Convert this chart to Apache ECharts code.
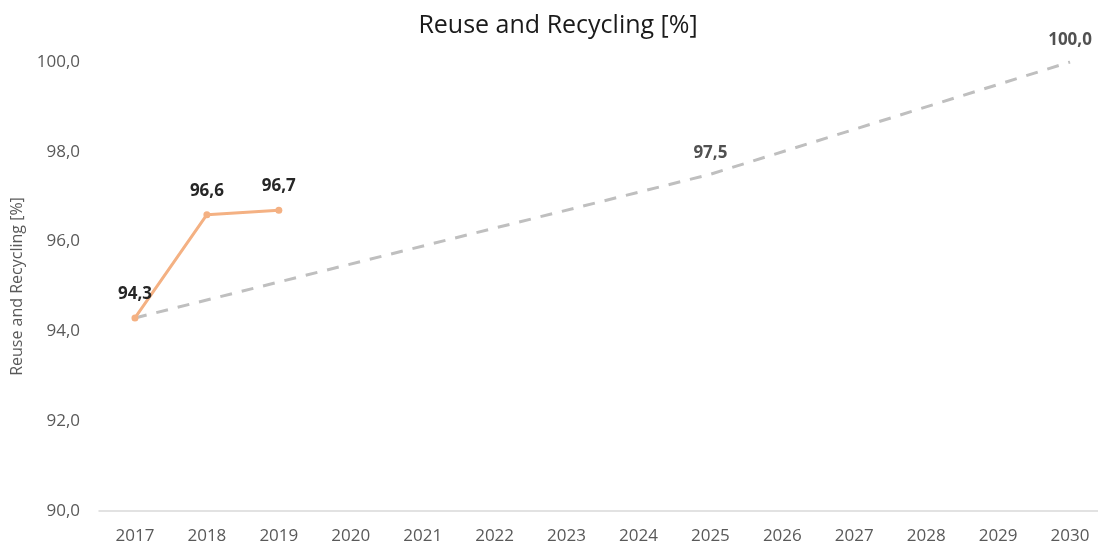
<!DOCTYPE html>
<html>
<head>
<meta charset="utf-8">
<script src="https://cdn.jsdelivr.net/npm/echarts@6/dist/echarts.min.js"></script>
<style>html,body{margin:0;padding:0;background:#fff;overflow:hidden;width:1098px;height:548px;}#c{width:1110px;height:548px;}</style>
</head>
<body>
<div id="c"></div>
<script>
const years = ['2017','2018','2019','2020','2021','2022','2023','2024','2025','2026','2027','2028','2029','2030'];
const actual = [94.3, 96.6, 96.7, null, null, null, null, null, null, null, null, null, null, null];
const target = [94.3, null, null, null, null, null, null, null, 97.5, null, null, null, null, 100.0];
const yTicks = {min: 90, max: 100, interval: 2};

const fmt = v => v.toFixed(1).replace('.', ',');
const chart = echarts.init(document.getElementById('c'));
chart.setOption({
  animation: false,
  title: {
    text: 'Reuse and Recycling [%]', left: 553, textAlign: 'center', top: 8,
    textStyle: {fontFamily: 'Open Sans', fontSize: 25, fontWeight: 'normal', color: '#1a1a1a'}
  },
  grid: {left: 99, width: 1007, top: 62, bottom: 37},
  xAxis: {
    type: 'category', data: years, boundaryGap: true,
    axisLine: {lineStyle: {color: '#d9d9d9', width: 1.5}},
    axisTick: {show: false},
    axisLabel: {fontFamily: 'Open Sans', fontSize: 17, color: '#595959', margin: 17}
  },
  yAxis: {
    type: 'value', min: yTicks.min, max: yTicks.max, interval: yTicks.interval,
    name: 'Reuse and Recycling [%]', nameLocation: 'middle', nameGap: 72, nameRotate: 90,
    nameTextStyle: {fontFamily: 'Open Sans', fontSize: 16, color: '#595959'},
    axisLine: {show: false}, axisTick: {show: false}, splitLine: {show: false},
    axisLabel: {fontFamily: 'Open Sans', fontSize: 17, color: '#595959', margin: 19, formatter: v => fmt(v)}
  },
  series: [
    {
      type: 'line', data: target, connectNulls: true,
      symbol: 'none', z: 1,
      lineStyle: {color: '#bfbfbf', width: 3, type: [12, 10]},
      label: {show: false}
    },
    {
      type: 'scatter', data: target, symbolSize: 0, z: 3,
      label: {show: true, position: 'top', distance: 13, formatter: p => p.value == null || p.dataIndex === 0 ? '' : fmt(p.value),
        fontFamily: 'Open Sans', fontSize: 17, fontWeight: 'bold', color: '#262626'}
    },
    {
      type: 'line', data: actual, z: 2,
      symbol: 'circle', symbolSize: 7,
      itemStyle: {color: '#f4b183'},
      lineStyle: {color: '#f4b183', width: 3},
      label: {show: true, position: 'top', distance: 12, formatter: p => fmt(p.value),
        fontFamily: 'Open Sans', fontSize: 17, fontWeight: 'bold', color: '#262626'}
    }
  ]
});
</script>
</body>
</html>
